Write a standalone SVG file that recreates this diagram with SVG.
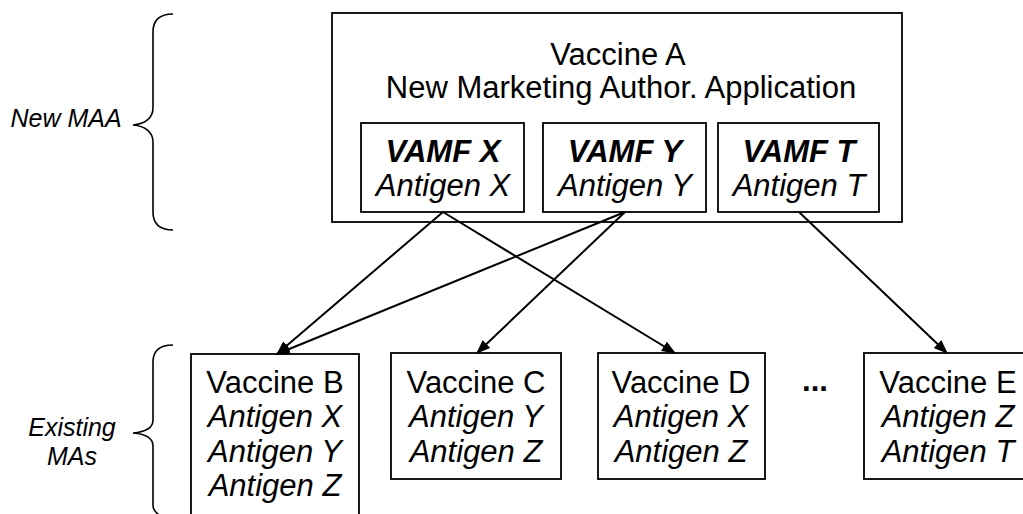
<svg xmlns="http://www.w3.org/2000/svg" width="1023" height="514" viewBox="0 0 1023 514">
  <defs>
    <style>
      .box { fill: #ffffff; stroke: #000000; stroke-width: 1.8; }
      .t { font-family: "Liberation Sans", Arial, sans-serif; font-size: 31px; fill: #000000; text-anchor: middle; }
      .i { font-style: italic; }
      .b { font-weight: bold; }
      .lbl { font-family: "Liberation Sans", Arial, sans-serif; font-size: 25px; font-style: italic; fill: #000000; text-anchor: middle; }
      .brace { fill: none; stroke: #000000; stroke-width: 1.6; }
      .conn { fill: none; stroke: #000000; stroke-width: 2; marker-end: url(#arrow); }
    </style>
    <marker id="arrow" markerUnits="userSpaceOnUse" markerWidth="14" markerHeight="12" refX="13" refY="5.5" orient="auto">
      <path d="M0,0 L14,5.5 L0,11 z" fill="#000000"/>
    </marker>
  </defs>

  <g id="brace-new-maa">
    <path class="brace" d="M173,14 C160,14 153,20 153,32 L153,108 C153,118 145,124 133,125 C145,126 153,132 153,142 L153,212 C153,224 160,230 173,230"/>
    <text class="lbl" x="66" y="127">New MAA</text>
  </g>

  <g id="brace-existing">
    <path class="brace" d="M173,345 C160,345 153,351 153,362 L153,420 C153,428 145,432 133,433 C145,434 153,438 153,446 L153,505 C153,512 160,518 173,518"/>
    <text class="lbl" x="72" y="436">Existing</text>
    <text class="lbl" x="72" y="465">MAs</text>
  </g>

  <g id="vaccine-a">
    <rect class="box" x="332" y="13" width="570" height="209"/>
    <text class="t" x="618" y="65">Vaccine A</text>
    <text class="t" x="621" y="98">New Marketing Author. Application</text>
  </g>

  <g id="vamf-x">
    <rect class="box" x="361" y="123" width="163" height="89"/>
    <text class="t i b" x="443" y="162">VAMF X</text>
    <text class="t i" x="443" y="196">Antigen X</text>
  </g>

  <g id="vamf-y">
    <rect class="box" x="543" y="123" width="163" height="89"/>
    <text class="t i b" x="625" y="162">VAMF Y</text>
    <text class="t i" x="625" y="196">Antigen Y</text>
  </g>

  <g id="vamf-t">
    <rect class="box" x="718" y="123" width="161" height="89"/>
    <text class="t i b" x="799" y="162">VAMF T</text>
    <text class="t i" x="799" y="196">Antigen T</text>
  </g>

  <g id="vaccine-b">
    <rect class="box" x="191" y="354" width="168" height="175"/>
    <text class="t" x="275" y="393">Vaccine B</text>
    <text class="t i" x="275" y="427">Antigen X</text>
    <text class="t i" x="275" y="462">Antigen Y</text>
    <text class="t i" x="275" y="496">Antigen Z</text>
  </g>

  <g id="vaccine-c">
    <rect class="box" x="391" y="353" width="170" height="126"/>
    <text class="t" x="476" y="393">Vaccine C</text>
    <text class="t i" x="476" y="427">Antigen Y</text>
    <text class="t i" x="476" y="462">Antigen Z</text>
  </g>

  <g id="vaccine-d">
    <rect class="box" x="598" y="353" width="167" height="126"/>
    <text class="t" x="681" y="393">Vaccine D</text>
    <text class="t i" x="681" y="427">Antigen X</text>
    <text class="t i" x="681" y="462">Antigen Z</text>
  </g>

  <g id="ellipsis">
    <text class="t b" x="815" y="391">...</text>
  </g>

  <g id="vaccine-e">
    <rect class="box" x="864" y="353" width="168" height="126"/>
    <text class="t" x="948" y="393">Vaccine E</text>
    <text class="t i" x="948" y="427">Antigen Z</text>
    <text class="t i" x="948" y="462">Antigen T</text>
  </g>

  <g id="connectors">
    <line class="conn" x1="443" y1="212" x2="277" y2="354"/>
    <line class="conn" x1="443" y1="212" x2="675" y2="353"/>
    <line class="conn" x1="625" y1="212" x2="277" y2="354"/>
    <line class="conn" x1="625" y1="212" x2="477" y2="353"/>
    <line class="conn" x1="799" y1="212" x2="947" y2="353"/>
  </g>
</svg>
